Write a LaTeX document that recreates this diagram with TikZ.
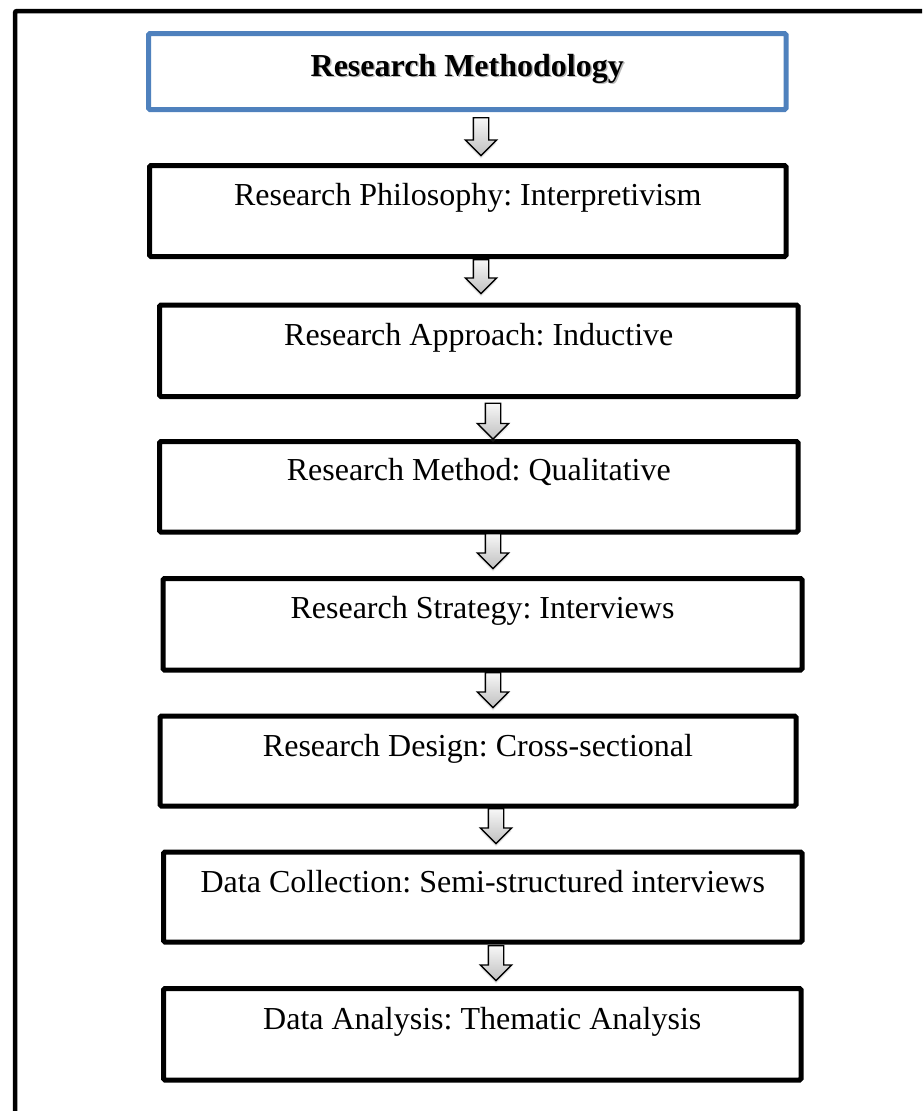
\documentclass[tikz,border=0pt]{standalone}
\usepackage{fontspec}
\setmainfont{Liberation Serif}
\usetikzlibrary{shapes.arrows,shadows,calc}
\definecolor{titleblue}{HTML}{4F81BD}
\frenchspacing
\begin{document}
\begin{tikzpicture}[x=1pt,y=-1pt,
  stepbox/.style={draw=black, line width=5pt, rounded corners=1.5pt,
    fill=white, inner sep=0pt, outer sep=0pt},
  titlebox/.style={stepbox, draw=titleblue},
  lbl/.style={font=\fontsize{32}{36}\selectfont, inner sep=0pt, anchor=base},
  downarrow/.style={single arrow, shape border rotate=270, draw=black,
    line width=1.4pt, inner sep=7pt, single arrow head extend=8pt,
    top color=gray!6, bottom color=gray!50, anchor=tail,
    drop shadow={shadow xshift=0pt, shadow yshift=-3pt, opacity=0.18}}
]
\clip (0,0) rectangle (922,1111);

% outer frame, running past the right and bottom edges
\draw[line width=4.5pt, rounded corners=2pt] (15,11) rectangle (960,1150);

% boxes
\node[titlebox, minimum width=637.5pt, minimum height=76pt]   (b1) at (467.25,71.5)  {};
\node[stepbox,  minimum width=636.5pt, minimum height=91pt]   (b2) at (467.75,211)   {};
\node[stepbox,  minimum width=638.5pt, minimum height=91.5pt] (b3) at (478.75,350.75){};
\node[stepbox,  minimum width=638.5pt, minimum height=90.5pt] (b4) at (478.75,486.75){};
\node[stepbox,  minimum width=639pt,   minimum height=91.5pt] (b5) at (482.5,624.25) {};
\node[stepbox,  minimum width=636pt,   minimum height=90pt]   (b6) at (478,761)      {};
\node[stepbox,  minimum width=638.5pt, minimum height=90pt]   (b7) at (482.75,897)   {};
\node[stepbox,  minimum width=637.5pt, minimum height=91.5pt] (b8) at (482.25,1034.25){};

% title with its soft shadow
\node[lbl, font=\fontsize{32}{36}\selectfont\bfseries, text=gray!55] (t1s) at ($(b1.center)+(1.5,6)$) {Research Methodology};
\node[lbl, font=\fontsize{32}{36}\selectfont\bfseries] (t1) at ($(b1.center)+(0,4.5)$) {Research Methodology};

% step labels
\node[lbl] (t2) at ($(b2.north)+(0,40)$) {Research Philosophy: Interpretivism};
\node[lbl] (t3) at ($(b3.north)+(0,40)$) {Research Approach: Inductive};
\node[lbl] (t4) at ($(b4.north)+(0,39)$) {Research Method: Qualitative};
\node[lbl] (t5) at ($(b5.north)+(0,40)$) {Research Strategy: Interviews};
\node[lbl] (t6) at ($(b6.north)+(0,40)$) {Research Design: Cross-sectional};
\node[lbl] (t7) at ($(b7.north)+(0,40)$) {Data Collection: Semi-structured interviews};
\node[lbl] (t8) at ($(b8.north)+(0,41)$) {Data Analysis: Thematic Analysis};

% block arrows between consecutive boxes
\node[downarrow, minimum height=38pt] (a1) at ($(b1.south)+(13.75,7.5)$) {};
\node[downarrow, minimum height=34pt] (a2) at ($(b2.south)+(13.25,2.5)$) {};
\node[downarrow, minimum height=36pt] (a3) at ($(b3.south)+(14.25,6)$)   {};
\node[downarrow, minimum height=35pt] (a4) at ($(b4.south)+(14.25,1)$)   {};
\node[downarrow, minimum height=35pt] (a5) at ($(b5.south)+(10.5,2)$)    {};
\node[downarrow, minimum height=35pt] (a6) at ($(b6.south)+(18,2)$)      {};
\node[downarrow, minimum height=35pt] (a7) at ($(b7.south)+(13.25,3)$)   {};
\end{tikzpicture}
\end{document}
